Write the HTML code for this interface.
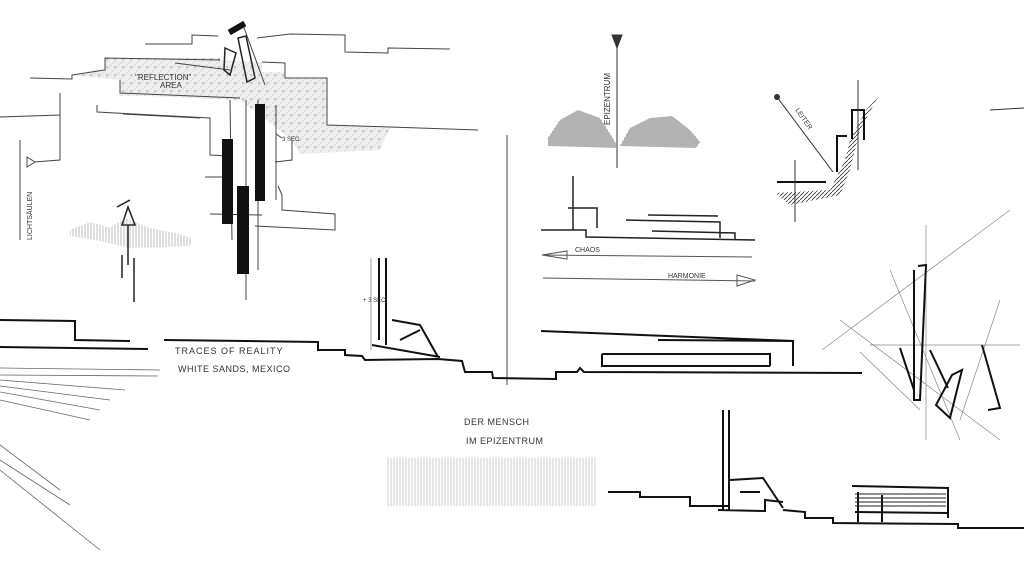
<!DOCTYPE html>
<html><head><style>
html,body{margin:0;padding:0;background:#fff;}
svg{display:block}
text{font-family:"Liberation Sans",sans-serif;fill:#333;}
</style></head><body>
<svg width="1024" height="576" viewBox="0 0 1024 576" xmlns="http://www.w3.org/2000/svg">
<defs>
<pattern id="dots" width="8" height="8" patternUnits="userSpaceOnUse"><rect width="8" height="8" fill="#eeeeee"/><circle cx="3" cy="3" r="0.7" fill="#888"/><line x1="0" y1="8" x2="8" y2="0" stroke="#dadada" stroke-width="0.8"/></pattern>
<pattern id="hatch" width="4" height="4" patternUnits="userSpaceOnUse"><line x1="0" y1="4" x2="4" y2="0" stroke="#333" stroke-width="0.8"/></pattern>
<pattern id="vhatch" width="3" height="6" patternUnits="userSpaceOnUse"><line x1="1" y1="0" x2="1" y2="6" stroke="#777" stroke-width="0.8"/></pattern>
<pattern id="vdark" width="2" height="6" patternUnits="userSpaceOnUse"><line x1="1" y1="0" x2="1" y2="6" stroke="#555" stroke-width="0.9"/></pattern>
</defs>
<g fill="none" stroke="#444" stroke-width="1">
<path d="M72,75 L105,68 L105,58 L220,58 L220,60 L262,62 L262,72 L285,72 L285,78 L327,78 L327,125 L390,128 L380,150 L300,154 L292,140 L240,100 L150,96 L120,96 L120,80 Z" fill="url(#dots)" stroke="none"/>
<path d="M145,44 L192,44 L192,35 L218,36"/>
<path d="M257,38 L290,34 L345,35 L345,52 L388,53 L388,48 L450,49"/>
<path d="M30,78 L72,79 L72,75 L105,70 L105,58 L220,60"/>
<path d="M120,80 L120,93 L240,98"/>
<path d="M262,62 L285,63 L285,78 L327,78 L327,125 L390,127 L478,130"/>
<path d="M60,93 L60,160 L34,162"/>
<path d="M97,105 L97,112 L210,118 L210,155 L228,156"/>
<path d="M123,114 L200,118"/>
<path d="M0,117 L60,115"/>
<path d="M292,140 L292,160 L275,162"/>
<path d="M278,186 L282,195 L282,210 L335,214 L335,230 L255,226"/>
<path d="M205,177 L230,177 M210,214 L262,215"/>
<path d="M20,140 L20,240"/>
<path d="M27,157 L35,162 L27,167Z"/>
<path d="M230,70 L175,63"/>
<path d="M243,25 L265,85" />
<path d="M246,100 L246,300"/>
<path d="M230,100 L232,240 M258,100 L258,270"/>
<path d="M276,105 L276,200 M276,134 L282,138"/>
<path d="M507,135 L507,385"/>
</g>
<g fill="#111">
<rect x="222" y="139" width="11" height="85"/>
<rect x="255" y="104" width="10" height="97"/>
<rect x="237" y="186" width="12" height="88"/>
<rect x="228" y="25" width="18" height="6" transform="rotate(-30 237 28)"/>
</g>
<g fill="none" stroke="#222" stroke-width="1.5">
<path d="M225,48 L236,53 L230,75 L224,70Z M238,38 L246,36 L255,78 L247,82Z"/>
<path d="M128,207 L122,225 L135,225Z M117,207 L130,200"/>
<path d="M128,225 L128,265 M122,255 L122,278 M134,258 L134,302"/>
</g>
<path d="M70,230 L90,222 L110,228 L125,218 L150,228 L175,233 L192,238 L190,246 L130,248 L95,240 L70,236Z" fill="url(#vhatch)" opacity="0.6"/>
<text x="135" y="80" font-size="8">"REFLECTION"</text>
<text x="160" y="88" font-size="8">AREA</text>
<text x="282" y="141" font-size="6">3 SEC.</text>
<text x="32" y="240" font-size="7" transform="rotate(-90 32 240)">LICHTSÄULEN</text>

<path d="M548,138 L560,120 L578,110 L600,118 L614,140 L618,148 L548,146Z" fill="url(#vdark)"/>
<path d="M620,146 L630,128 L650,118 L672,116 L690,130 L700,142 L696,148Z" fill="url(#vdark)"/>
<g fill="none" stroke="#333">
<path d="M617,40 L617,168"/>
<path d="M612,35 L622,35 L617,48Z" fill="#333"/>
</g>
<text x="610" y="125" font-size="8" transform="rotate(-90 610 125)">EPIZENTRUM</text>
<g fill="none" stroke="#222" stroke-width="1.5">
<path d="M573,176 L573,230 M568,208 L597,208 L597,228 M541,230 L586,230 L586,237 L755,240"/>
<path d="M626,220 L720,222 L720,238 M648,215 L718,216 M652,231 L735,233 L735,240"/>
</g>
<g fill="none" stroke="#555">
<path d="M542,255 L752,257 M542,255 L567,251 L567,259Z"/>
<path d="M543,278 L755,281 M737,275 L755,280 L737,286Z"/>
</g>
<text x="575" y="252" font-size="7">CHAOS</text>
<text x="668" y="278" font-size="7">HARMONIE</text>
<path d="M775,193 L830,190 L845,160 L850,140 L866,110 L878,97 L860,130 L850,170 L840,195 L790,205Z" fill="url(#hatch)"/>
<g fill="none" stroke="#111" stroke-width="2">
<path d="M777,182 L826,182 M837,172 L837,136 L847,136 M852,139 L852,110 L864,110 L864,140"/>
</g>
<g fill="none" stroke="#333">
<path d="M777,97 L833,172 M858,80 L858,170 M795,160 L795,222"/>
</g>
<circle cx="777" cy="97" r="3" fill="#333"/>
<text x="795" y="110" font-size="7" transform="rotate(55 795 110)">LEITER</text>
<path d="M990,110 L1024,108" stroke="#333"/>

<g fill="none" stroke="#111" stroke-width="2">
<path d="M0,320 L75,321 L75,340 L130,341"/>
<path d="M0,347 L148,349"/>
<path d="M164,340 L318,342 L318,350 L345,350 L345,355 L362,356 L365,360 L438,359 L462,361 L465,372 L492,372 L493,378 L556,379 L556,372 L577,372 L580,368 L584,372 L862,373"/>
<path d="M541,331 L793,341 L793,366 M658,340 L793,341 M602,354 L770,354 L770,366 M602,354 L602,366 L770,366"/>
<path d="M379,258 L379,340 M386,258 L386,345"/>
<path d="M372,345 L440,357 M392,320 L420,325 L438,357 M400,340 L420,330"/>
</g>
<path d="M371,258 L371,350" stroke="#777" stroke-width="0.7"/>
<text x="175" y="354" font-size="9" letter-spacing="1">TRACES OF REALITY</text>
<text x="178" y="372" font-size="9" letter-spacing="0.5">WHITE SANDS, MEXICO</text>
<text x="363" y="302" font-size="6">+ 3 SEC.</text>
<text x="464" y="425" font-size="9" letter-spacing="0.5">DER MENSCH</text>
<text x="466" y="444" font-size="9" letter-spacing="0.5">IM EPIZENTRUM</text>

<g stroke="#666" stroke-width="0.8" fill="none">
<path d="M0,368 L160,370 M0,375 L158,376 M0,380 L125,390 M0,386 L110,400 M0,392 L100,410 M0,400 L90,420"/>
<path d="M0,445 L60,490 M0,460 L70,505 M0,470 L100,550"/>
</g>

<rect x="386" y="458" width="210" height="48" fill="url(#vhatch)" opacity="0.45"/>
<g fill="none" stroke="#111" stroke-width="2">
<path d="M723,410 L723,510 M729,410 L729,510 M718,510 L765,511 L765,500 L783,502"/>
<path d="M730,480 L763,478 L783,508 M740,492 L760,492"/>
<path d="M608,492 L640,492 L640,497 L690,497 L690,506 L730,506 M783,510 L805,512 L805,518 L833,518 L833,523 L958,524 L958,528 L1024,528"/>
<path d="M852,486 L948,488 L948,518 M855,512 L948,513 M858,492 L858,522 M882,495 L882,522"/>
</g>
<g stroke="#222" stroke-width="1"><path d="M855,494 L946,494 M855,498 L946,498 M855,502 L946,502 M855,506 L946,506"/></g>

<g fill="none" stroke="#888" stroke-width="0.7">
<path d="M822,350 L1010,210 M860,352 L920,410 M926,225 L926,440 M870,345 L1020,345 M840,320 L1000,440 M890,270 L960,440 M1000,300 L960,420"/>
</g>
<g fill="none" stroke="#111" stroke-width="2">
<path d="M914,270 L914,400 L920,400 L926,265 L918,266"/>
<path d="M900,348 L914,390 M930,350 L948,388 M962,370 L950,418 L936,405 L952,375Z M982,345 L1000,408 L988,410"/>
</g>
</svg>
</body></html>
